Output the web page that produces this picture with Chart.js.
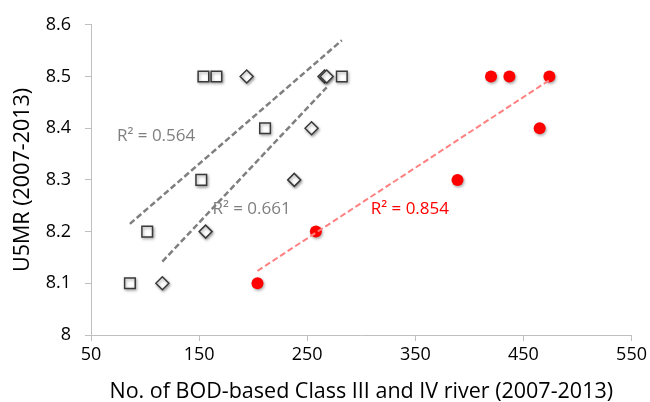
<!DOCTYPE html>
<html lang="en">
<head>
<meta charset="UTF-8">
<title>U5MR vs BOD-based Class III and IV rivers</title>
<script src="https://cdn.jsdelivr.net/npm/chart.js"></script>
<style>
    html, body { margin: 0; padding: 0; background: #fff; }
    #wrap { width: 650px; height: 402px; }
</style>
</head>
<body>
<div id="wrap"><canvas id="grafica" width="650" height="402"></canvas></div>
<script>
// values
const u5mr = [8.1, 8.2, 8.3, 8.4, 8.5, 8.5, 8.5];
const squareRivers = [86, 102, 152, 211, 154, 166, 282];
const diamondRivers = [116, 156, 238, 254, 194, 266, 268];
const redRivers = [204, 258, 389, 465, 420, 437, 474];

// trend lines (end points as drawn in the picture)
const squareTrendX = [86, 282];
const squareTrendY = [8.215, 8.57];
const diamondTrendX = [116, 268];
const diamondTrendY = [8.142, 8.479];
const redTrendX = [204, 474];
const redTrendY = [8.124, 8.493];

const r2Labels = ["R² = 0.564", "R² = 0.661", "R² = 0.854"];

const xTicks = [50, 150, 250, 350, 450, 550];
const yTicks = [8, 8.1, 8.2, 8.3, 8.4, 8.5, 8.6];

function pts(xs, ys) {
    return xs.map((x, i) => ({ x: x, y: ys[i] }));
}

const FONT = "'Open Sans', sans-serif";
const AXIS_GREY = "#bfbfbf";

// shadow under the markers, like the original
const markerShadow = {
    id: "markerShadow",
    beforeDatasetDraw(chart, args) {
        const ds = chart.data.datasets[args.index];
        if (ds.showLine) return;
        const ctx = chart.ctx;
        ctx.save();
        ctx.shadowColor = "rgba(0,0,0,0.35)";
        ctx.shadowBlur = 3;
        ctx.shadowOffsetX = 1;
        ctx.shadowOffsetY = 1.5;
    },
    afterDatasetDraw(chart, args) {
        const ds = chart.data.datasets[args.index];
        if (ds.showLine) return;
        chart.ctx.restore();
    }
};

// R² texts, placed in data units
const r2Text = {
    id: "r2Text",
    afterDatasetsDraw(chart) {
        const ctx = chart.ctx;
        const xs = chart.scales.x, ys = chart.scales.y;
        const spots = [
            { x: 74, y: 8.385, color: "#7f7f7f" },
            { x: 162.3, y: 8.244, color: "#7f7f7f" },
            { x: 308.7, y: 8.244, color: "#ff0000" }
        ];
        ctx.save();
        ctx.font = "17px " + FONT;
        ctx.textBaseline = "middle";
        ctx.textAlign = "left";
        spots.forEach((s, i) => {
            ctx.fillStyle = s.color;
            ctx.fillText(r2Labels[i], xs.getPixelForValue(s.x), ys.getPixelForValue(s.y));
        });
        ctx.restore();
    }
};

const ctx = document.getElementById("grafica").getContext("2d");
new Chart(ctx, {
    type: "scatter",
    data: {
        datasets: [
            {
                label: "trend squares",
                data: pts(squareTrendX, squareTrendY),
                showLine: true,
                borderColor: "#7f7f7f",
                borderWidth: 2.5,
                borderDash: [6, 3],
                pointRadius: 0
            },
            {
                label: "trend diamonds",
                data: pts(diamondTrendX, diamondTrendY),
                showLine: true,
                borderColor: "#7f7f7f",
                borderWidth: 2.5,
                borderDash: [6, 3],
                pointRadius: 0
            },
            {
                label: "trend red",
                data: pts(redTrendX, redTrendY),
                showLine: true,
                borderColor: "#ff8080",
                borderWidth: 2,
                borderDash: [6, 3],
                pointRadius: 0
            },
            {
                label: "squares",
                data: pts(squareRivers, u5mr),
                pointStyle: "rect",
                pointRadius: 7.5,
                backgroundColor: "#ffffff",
                borderColor: "#3a3a3a",
                borderWidth: 1.5
            },
            {
                label: "diamonds",
                data: pts(diamondRivers, u5mr),
                pointStyle: "rectRot",
                pointRadius: 6.5,
                backgroundColor: "#ffffff",
                borderColor: "#3a3a3a",
                borderWidth: 1.5
            },
            {
                label: "red",
                data: pts(redRivers, u5mr),
                pointStyle: "circle",
                pointRadius: 6,
                backgroundColor: "#ff0000",
                borderColor: "#ff0000",
                borderWidth: 0
            }
        ]
    },
    options: {
        responsive: false,
        animation: false,
        layout: { padding: { left: 0, right: 16, top: 19, bottom: 0 } },
        plugins: {
            legend: { display: false },
            tooltip: { enabled: false }
        },
        scales: {
            x: {
                type: "linear",
                min: 50,
                max: 550,
                afterBuildTicks: axis => { axis.ticks = xTicks.map(v => ({ value: v })); },
                afterFit: axis => { axis.height = 67; },
                border: { color: AXIS_GREY, width: 1 },
                grid: { drawOnChartArea: false, color: AXIS_GREY, tickLength: 6 },
                ticks: { color: "#000", padding: 3, font: { family: FONT, size: 18 } },
                title: {
                    display: true,
                    text: "No. of BOD-based Class III and IV river (2007-2013)",
                    color: "#000",
                    font: { family: FONT, size: 21.5 },
                    padding: { top: 0, bottom: -3 }
                }
            },
            y: {
                type: "linear",
                min: 8,
                max: 8.6,
                afterBuildTicks: axis => { axis.ticks = yTicks.map(v => ({ value: v })); },
                afterFit: axis => { axis.width = 91; },
                border: { color: AXIS_GREY, width: 1 },
                grid: { drawOnChartArea: false, color: AXIS_GREY, tickLength: 6 },
                ticks: {
                    color: "#000",
                    padding: 14,
                    font: { family: FONT, size: 18 },
                    callback: v => (v === 8 ? "8" : v.toFixed(1))
                },
                title: {
                    display: true,
                    text: "U5MR (2007-2013)",
                    color: "#000",
                    font: { family: FONT, size: 21.5 },
                    padding: { top: 10, bottom: 0 }
                }
            }
        }
    },
    plugins: [markerShadow, r2Text]
});
</script>
</body>
</html>
